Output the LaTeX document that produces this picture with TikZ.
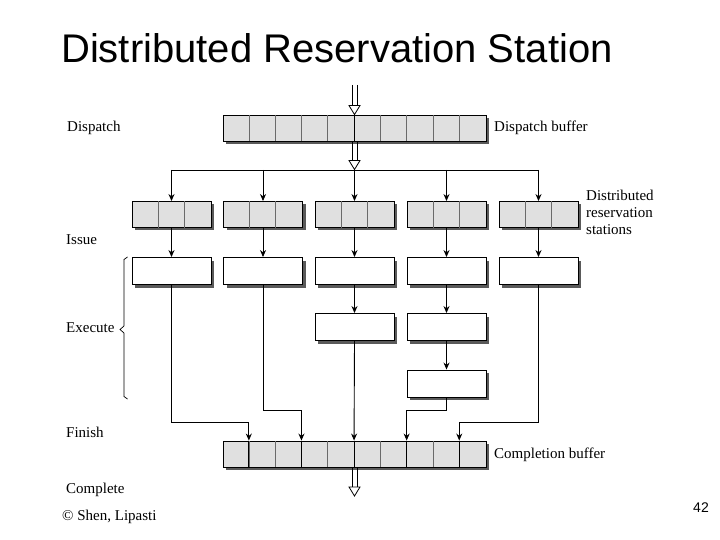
\documentclass[tikz,border=0pt]{standalone}
\usepackage{fontspec}
\setmainfont{Liberation Serif}
\newfontfamily\arialfont{Liberation Sans}
\usetikzlibrary{arrows.meta,calc,shadows}
\definecolor{cellgray}{HTML}{E0E0E0}
\definecolor{shadowgray}{HTML}{5A5A5A}
\definecolor{divgray}{HTML}{6A6A6A}
\newcommand\hollowdown[2]{%
  \draw[line width=0.8pt] ($(#1)+(-2.5,0)$) -- ($(#2)+(-2.5,-9)$) ($(#1)+(2.5,0)$) -- ($(#2)+(2.5,-9)$);
  \draw[line width=0.8pt, fill=white, line join=miter] ($(#2)+(-5.5,-9)$) -- (#2) -- ($(#2)+(5.5,-9)$) -- cycle;}
\begin{document}
\begin{tikzpicture}[x=1pt,y=-1pt,
  shadowed/.style={drop shadow={shadow xshift=3pt,shadow yshift=-3pt,fill=shadowgray,opacity=1}},
  buf/.style={draw, line width=0.9pt, fill=cellgray, inner sep=0, minimum height=26pt, shadowed},
  fu/.style={draw, line width=0.9pt, fill=white, inner sep=0, minimum width=79pt, minimum height=27pt, shadowed},
  arr/.style={line width=0.9pt, -{Stealth[length=7pt,width=6pt]}},
  lbl/.style={font=\fontsize{15}{17}\selectfont, inner sep=0, anchor=west},
  div/.style={draw=divgray, line width=0.6pt}
]
\path[use as bounding box] (0,0) rectangle (720,540);

% title
\node[font=\arialfont\fontsize{40}{44}\selectfont, anchor=base west, inner sep=0] (title) at (61,63) {Distributed Reservation Station};

% buffers
\node[buf, minimum width=263pt] (db) at (354.5,128) {};
\node[buf, minimum width=263pt] (cb) at (354.5,454) {};
\foreach \k in {1,...,9} {
  \draw[div] ($(db.north west)+(\k*26.3,0)$) -- ($(db.south west)+(\k*26.3,0)$);
  \draw[div] ($(cb.north west)+(\k*26.3,0)$) -- ($(cb.south west)+(\k*26.3,0)$);
}
\draw[line width=0.9pt] (db.north) -- (db.south);

% reservation stations and functional units
\foreach \i/\x in {1/171.5,2/263,3/354.5,4/446.5,5/538.5} {
  \node[buf, minimum width=79pt] (rs\i) at (\x,214.5) {};
  \draw[div] ($(rs\i.north west)+(26.33,0)$) -- ($(rs\i.south west)+(26.33,0)$);
  \draw[div] ($(rs\i.north west)+(52.67,0)$) -- ($(rs\i.south west)+(52.67,0)$);
  \node[fu] (fu\i) at (\x,271) {};
}
\node[fu] (fu3b) at (354.5,327) {};
\node[fu] (fu4b) at (446.5,327) {};
\node[fu] (fu4c) at (446.5,383.5) {};

% completion buffer entry points
\foreach \k [count=\j] in {1,3,5,7,9} {
  \coordinate (cin\j) at ($(cb.north west)+(\k*26.3,0)$);
  \draw[line width=0.9pt] (cin\j) -- ($(cb.south west)+(\k*26.3,0)$);
}

% hollow arrows
\coordinate (inTop) at (354.5,85);
\coordinate (busTip) at (354.5,169.5);
\coordinate (bus) at (354.5,170);
\coordinate (outEnd) at (354.5,496);
\hollowdown{inTop}{db.north}
\hollowdown{db.south}{busTip}
\hollowdown{cb.south}{outEnd}

% bus to reservation stations
\draw[line width=0.9pt] (rs1.north |- bus) -- (rs5.north |- bus);
\foreach \i in {1,...,5} {
  \draw[arr] (rs\i.north |- bus) -- (rs\i.north);
  \draw[arr] (rs\i.south) -- (fu\i.north);
}
\draw[arr] (fu3.south) -- (fu3b.north);
\draw[arr] (fu4.south) -- (fu4b.north);
\draw[arr] (fu4b.south) -- (fu4c.north);

% to completion buffer
\coordinate (ya) at (0,422);
\coordinate (yb) at (0,410);
\draw[arr] (fu1.south) -- (fu1.south |- ya) -| (cin1);
\draw[arr] (fu2.south) -- (fu2.south |- yb) -| (cin2);
\draw[arr] (fu3b.south) -- (cin3);
\draw[arr] (fu4c.south) -- (fu4c.south |- yb) -| (cin4);
\draw[arr] (fu5.south) -- (fu5.south |- ya) -| (cin5);

% brace
\draw[line width=0.7pt] (127.5,257) -- (124,259.5) -- (124,326) -- (120,329.5) -- (124,333) -- (124,396.5) -- (127.5,399);

% labels
\node[lbl] (lDispatch) at (67,128) {Dispatch};
\node[lbl] (lDB) at (494,128) {Dispatch buffer};
\node[lbl, anchor=north west, align=left] (lDRS) at (586,190) {Distributed\\reservation\\stations};
\node[lbl] (lIssue) at (66,240) {Issue};
\node[lbl] (lExec) at (66,328) {Execute};
\node[lbl] (lFinish) at (66,432) {Finish};
\node[lbl] (lCB) at (494,455) {Completion buffer};
\node[lbl] (lComplete) at (66,490) {Complete};
\node[lbl] (lCopy) at (62,517) {© Shen, Lipasti};
\node[font=\arialfont\fontsize{14}{16}\selectfont, anchor=east, inner sep=0] (page) at (709,508) {42};
\end{tikzpicture}
\end{document}
